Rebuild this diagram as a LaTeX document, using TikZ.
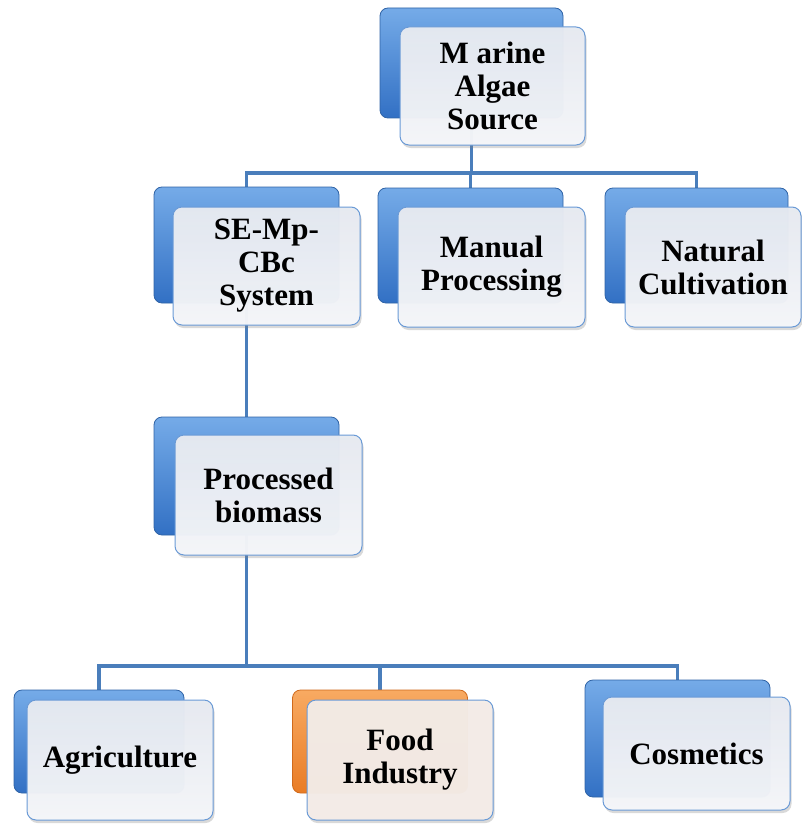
\documentclass[tikz,border=0pt]{standalone}
\usepackage{fontspec}
\setmainfont{Liberation Serif}
\usetikzlibrary{shadows,backgrounds}

\definecolor{linkblue}{HTML}{4A7EBB}
\definecolor{frameblue}{HTML}{6A9AD6}
\definecolor{backtop}{HTML}{75ABE8}
\definecolor{backbottom}{HTML}{3270C4}
\definecolor{backedge}{HTML}{2F63A6}
\definecolor{orangetop}{HTML}{F8AA62}
\definecolor{orangebottom}{HTML}{E97C25}
\definecolor{orangeedge}{HTML}{D06A1C}
\definecolor{paletop}{HTML}{E6EAF1}
\definecolor{palebottom}{HTML}{F5F6F9}
\definecolor{peach}{HTML}{F4ECE7}

\begin{document}
\begin{tikzpicture}[x=1pt,y=-1pt,
  link/.style={draw=linkblue,line width=3.8pt},
  backbox/.style={draw=backedge,line width=0.8pt,rounded corners=8pt,
    top color=backtop,bottom color=backbottom,inner sep=0pt},
  orangebox/.style={backbox,draw=orangeedge,top color=orangetop,bottom color=orangebottom},
  frontbox/.style={draw=frameblue,line width=1pt,rounded corners=9pt,
    top color=paletop,bottom color=palebottom,fill opacity=0.97,text opacity=1,
    drop shadow={shadow xshift=1.5pt,shadow yshift=-3pt,opacity=0.3},
    align=center,inner sep=2pt,
    font=\fontsize{31}{33}\selectfont\bfseries}]

  \useasboundingbox (0,0) rectangle (802,824);

% bus levels
  \coordinate (topbus) at (0,173);
  \coordinate (lowbus) at (0,666);

% source
  \node[backbox,minimum width=183pt,minimum height=110pt] (marineback) at (471.5,63) {};
  \node[frontbox,minimum width=185pt,minimum height=118pt] (marine) at (492.5,86) {M arine\\Algae\\Source};

% routes
  \node[backbox,minimum width=185pt,minimum height=116pt] (seback) at (246.5,245) {};
  \node[frontbox,minimum width=187pt,minimum height=118pt] (se) at (266.5,266) {SE-Mp-\\CBc\\System};
  \node[backbox,minimum width=185pt,minimum height=115pt] (manualback) at (470.5,245.5) {};
  \node[frontbox,minimum width=187pt,minimum height=120pt] (manual) at (491.5,267) {Manual\\Processing};
  \node[backbox,minimum width=183pt,minimum height=115pt] (naturalback) at (696.5,245.5) {};
  \node[frontbox,minimum width=176pt,minimum height=120pt] (natural) at (713,267) {Natural\\Cultivation};

% biomass
  \node[backbox,minimum width=185pt,minimum height=118pt] (procback) at (246.5,476) {};
  \node[frontbox,minimum width=187pt,minimum height=120pt] (proc) at (268.5,495) {Processed\\biomass};

% uses
  \node[backbox,minimum width=170pt,minimum height=103pt] (agriback) at (99,741.5) {};
  \node[frontbox,minimum width=186pt,minimum height=120pt] (agri) at (120,760) {Agriculture};
  \node[orangebox,minimum width=175pt,minimum height=103pt] (foodback) at (380,741.5) {};
  \node[frontbox,bottom color=peach,top color=peach,minimum width=186pt,minimum height=120pt] (food) at (400,760) {Food\\Industry};
  \node[backbox,minimum width=185pt,minimum height=117pt] (cosmback) at (677.5,738.5) {};
  \node[frontbox,minimum width=187pt,minimum height=113pt] (cosm) at (696.5,753.5) {Cosmetics};

% connectors
  \begin{scope}[on background layer]
    \draw[link] (marineback.south) -- (marineback.south |- topbus) -| (seback.north);
    \draw[link] (marineback.south |- topbus) -| (naturalback.north);
    \draw[link] (manualback.north |- topbus) -- (manualback.north);
    \draw[link] (seback.south) -- (procback.north);
    \draw[link] (procback.south) -- (procback.south |- lowbus) -| (agriback.north);
    \draw[link] (procback.south |- lowbus) -| (foodback.north);
    \draw[link] (procback.south |- lowbus) -| (cosmback.north);
  \end{scope}

\end{tikzpicture}
\end{document}
